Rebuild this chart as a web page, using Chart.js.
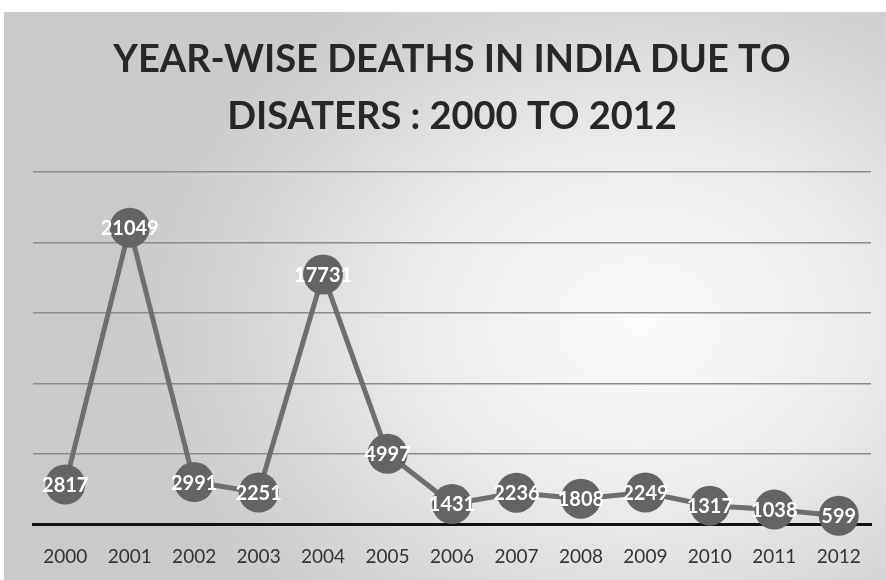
<!DOCTYPE html>
<html>
<head>
<meta charset="utf-8">
<title>Year-wise deaths in India due to disasters</title>
<script src="https://cdn.jsdelivr.net/npm/chart.js@4/dist/chart.umd.min.js"></script>
<style>
    html, body { margin: 0; padding: 0; background: #ffffff; }
    #wrap {
        position: relative;
        width: 886px;
        height: 580px;
        overflow: hidden;
    }
    #panel {
        position: absolute;
        left: 4px;
        top: 12px;
        width: 882px;
        height: 568px;
        background: radial-gradient(ellipse 58% 72% at 72% 55%, #fbfbfb 0%, #ebebeb 45%, #d4d4d4 80%, #cacaca 100%);
    }
    canvas { position: absolute; left: 0; top: 0; }
</style>
</head>
<body>
<div id="wrap">
    <div id="panel"></div>
    <canvas id="deathsChart" width="893" height="592"></canvas>
</div>
<script>
// chart data
const years = ['2000', '2001', '2002', '2003', '2004', '2005', '2006',
    '2007', '2008', '2009', '2010', '2011', '2012'];
const deaths = [2817, 21049, 2991, 2251, 17731, 4997, 1431,
    2236, 1808, 2249, 1317, 1038, 599];
const titleLines = ['YEAR-WISE DEATHS IN INDIA DUE TO', 'DISATERS : 2000 TO 2012'];

// white value labels inside the markers
const valueLabels = {
    id: 'valueLabels',
    afterDatasetsDraw(chart) {
        const ctx = chart.ctx;
        const meta = chart.getDatasetMeta(0);
        ctx.save();
        ctx.fillStyle = '#ffffff';
        ctx.font = 'bold 20px Lato, sans-serif';
        ctx.textAlign = 'center';
        ctx.textBaseline = 'middle';
        meta.data.forEach((pt, i) => {
            ctx.fillText(String(deaths[i]), pt.x, pt.y + 1);
        });
        ctx.restore();
    }
};

const ctx = document.getElementById('deathsChart').getContext('2d');
new Chart(ctx, {
    type: 'line',
    data: {
        labels: years,
        datasets: [{
            label: 'Deaths',
            data: deaths,
            borderColor: '#6e6e6e',
            borderWidth: 5,
            pointRadius: 20,
            pointHoverRadius: 20,
            pointBackgroundColor: '#646464',
            pointBorderColor: '#646464',
            pointBorderWidth: 0,
            tension: 0,
            clip: false
        }]
    },
    options: {
        responsive: false,
        animation: false,
        layout: { padding: { left: 33, right: 22, top: 0, bottom: 3 } },
        plugins: {
            legend: { display: false },
            tooltip: { enabled: false },
            title: {
                display: true,
                text: titleLines,
                color: '#272727',
                font: { family: 'Lato, sans-serif', size: 38, weight: 'bold', lineHeight: 1.5 },
                padding: { top: 31, bottom: 27 }
            }
        },
        scales: {
            x: {
                offset: true,
                grid: { display: false, drawTicks: false },
                border: { display: true, color: '#111111', width: 3 },
                ticks: {
                    color: '#333333',
                    font: { family: 'Lato, sans-serif', size: 19 },
                    padding: 21,
                    maxRotation: 0,
                    autoSkip: false
                }
            },
            y: {
                min: 0,
                max: 25000,
                ticks: { display: false, stepSize: 5000 },
                grid: {
                    drawTicks: false,
                    color: ctx => ctx.tick.value === 0 ? 'rgba(0,0,0,0)' : '#8c8c8c',
                    lineWidth: 1.5
                },
                border: { display: false }
            }
        }
    },
    plugins: [valueLabels]
});
</script>
</body>
</html>
